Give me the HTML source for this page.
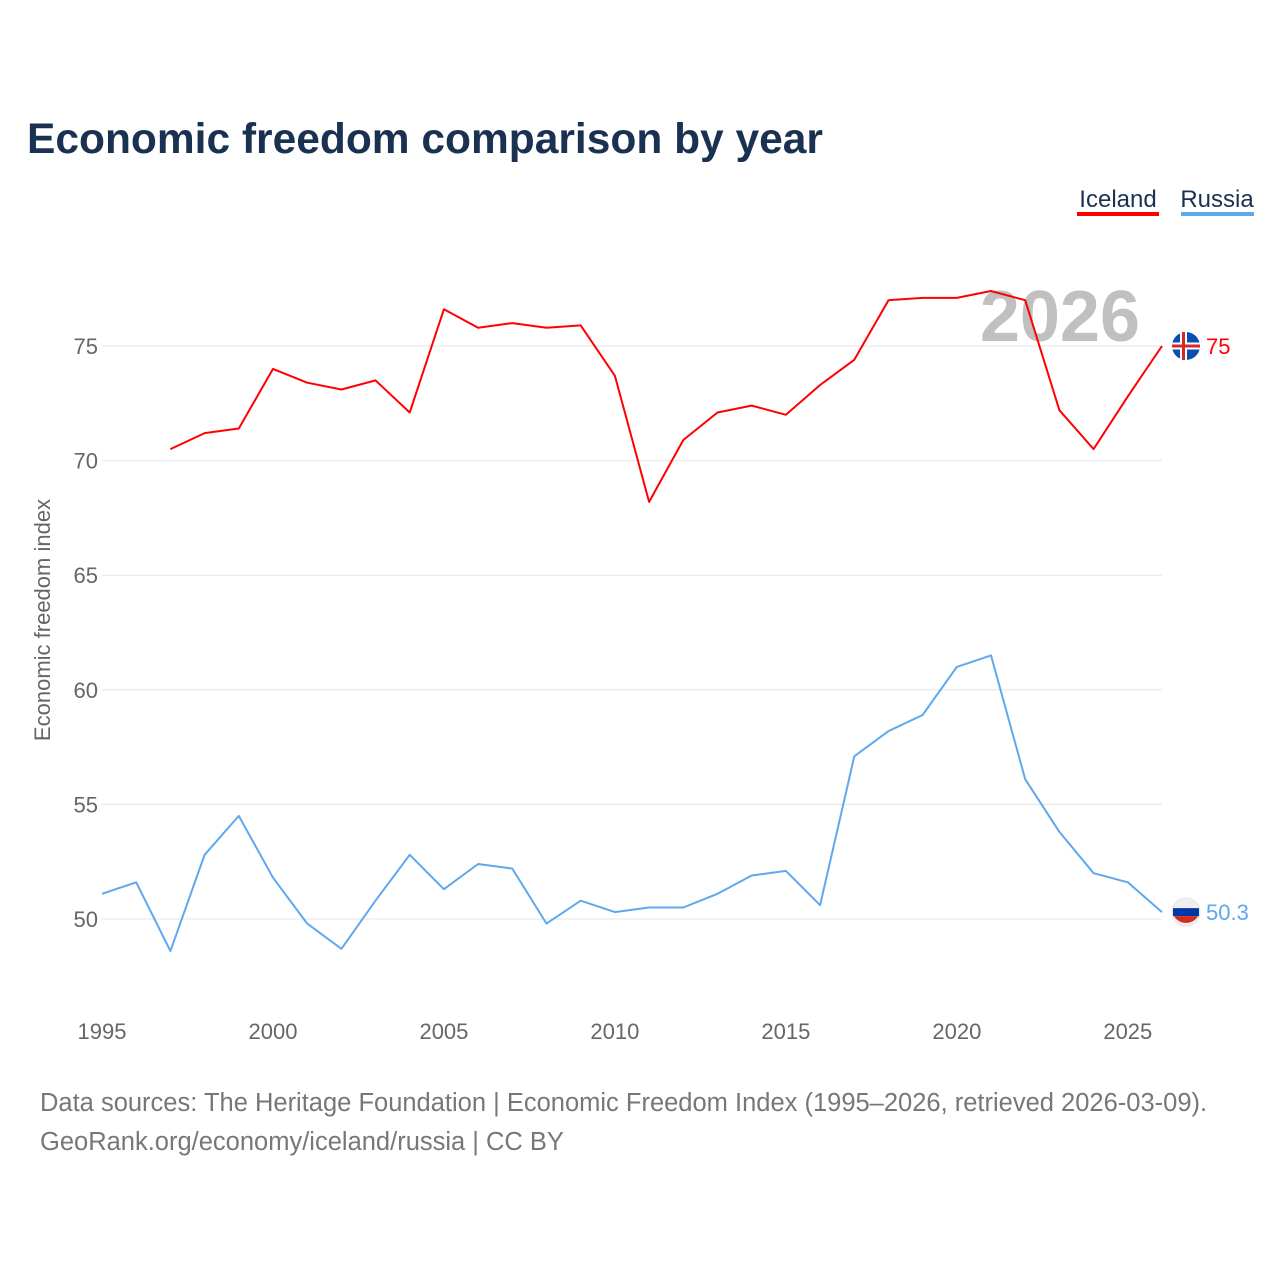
<!DOCTYPE html>
<html><head><meta charset="utf-8">
<style>
html,body{margin:0;padding:0;background:#fff;}
body{width:1280px;height:1280px;position:relative;font-family:"Liberation Sans",sans-serif;overflow:hidden;}
</style></head>
<body>
<svg id="chart" width="1280" height="1280" xmlns="http://www.w3.org/2000/svg" font-family="Liberation Sans, sans-serif">
<text x="27" y="153" font-size="42.5" font-weight="bold" fill="#1b3152">Economic freedom comparison by year</text>
<g><text x="1118" y="207" font-size="24" fill="#1b3152" text-anchor="middle">Iceland</text><rect x="1077" y="212" width="82" height="4" fill="#ff0000"/></g>
<g><text x="1217" y="207" font-size="24" fill="#1b3152" text-anchor="middle">Russia</text><rect x="1181" y="212" width="73" height="4" fill="#5ea8ee"/></g>
<text x="1140" y="341" font-size="72" font-weight="bold" fill="#c0c0c0" text-anchor="end">2026</text>
<text transform="translate(50,620) rotate(-90)" font-size="22" fill="#666" text-anchor="middle">Economic freedom index</text>
<g id="grid"></g><g id="series"></g>
<text x="40" y="1111" font-size="25.5" fill="#777">Data sources: The Heritage Foundation | Economic Freedom Index (1995–2026, retrieved 2026-03-09).</text>
<text x="40" y="1150" font-size="25.5" fill="#777">GeoRank.org/economy/iceland/russia | CC BY</text>
</svg>
<script>
const years=[1995,1996,1997,1998,1999,2000,2001,2002,2003,2004,2005,2006,2007,2008,2009,2010,2011,2012,2013,2014,2015,2016,2017,2018,2019,2020,2021,2022,2023,2024,2025,2026];
const iceland=[null,null,70.5,71.2,71.4,74.0,73.4,73.1,73.5,72.1,76.6,75.8,76.0,75.8,75.9,73.7,68.2,70.9,72.1,72.4,72.0,73.3,74.4,77.0,77.1,77.1,77.4,77.0,72.2,70.5,72.8,75.0];
const russia=[51.1,51.6,48.6,52.8,54.5,51.8,49.8,48.7,50.8,52.8,51.3,52.4,52.2,49.8,50.8,50.3,50.5,50.5,51.1,51.9,52.1,50.6,57.1,58.2,58.9,61.0,61.5,56.1,53.8,52.0,51.6,50.3];
const yTicks=[50,55,60,65,70,75];
const xTicks=[1995,2000,2005,2010,2015,2020,2025];
const NS="http://www.w3.org/2000/svg";
const xS=y=>102+(y-1995)*(1162-102)/31;
const yS=v=>919-(v-50)*(919-346)/25;
function mk(t,a,p){const e=document.createElementNS(NS,t);for(const k in a)e.setAttribute(k,a[k]);p.appendChild(e);return e;}
const grid=document.getElementById('grid'),ser=document.getElementById('series');
yTicks.forEach(v=>{
 const l=mk('line',{x1:102,x2:1162,y1:yS(v),y2:yS(v),stroke:'#e6e6e6','stroke-width':1},grid);
 
 
 const t=mk('text',{x:98,y:yS(v)+8,'font-size':22,fill:'#666','text-anchor':'end'},grid);t.textContent=v;
 
 
});
xTicks.forEach(y=>{
 const t=mk('text',{x:xS(y),y:1039,'font-size':22,fill:'#666','text-anchor':'middle'},grid);t.textContent=y;
 
 
});
function line(vals,color,name){
 let d='';vals.forEach((v,i)=>{if(v==null)return;d+=(d?'L':'M')+xS(years[i]).toFixed(1)+','+yS(v).toFixed(1);});
 const p=mk('path',{d:d,fill:'none',stroke:color,'stroke-width':2,'stroke-linejoin':'round'},ser);
 
 
 const last=vals[vals.length-1],cx=xS(years[years.length-1])+24,cy=yS(last);
 const c=mk('circle',{cx:cx,cy:cy,r:14,fill:name==='iceland'?'#0b4fae':'#f0f0f0'},ser);
 
 
 if(name==='iceland'){
  mk('rect',{x:cx-14,y:cy-3.5,width:28,height:7,fill:'#fff'},ser);mk('rect',{x:cx-6,y:cy-14,width:7,height:28,fill:'#fff'},ser);
  mk('rect',{x:cx-14,y:cy-1.5,width:28,height:3,fill:'#d72828'},ser);mk('rect',{x:cx-4,y:cy-14,width:3,height:28,fill:'#d72828'},ser);
 }else{
  mk('path',{d:`M${cx-13},${cy-4}H${cx+13}V${cy+4}H${cx-13}Z`,fill:'#0039a6'},ser);
  mk('path',{d:`M${cx-12},${cy+4}H${cx+12}A14,14 0 0 1 ${cx-12},${cy+4}Z`,fill:'#d52b1e'},ser);
  mk('circle',{cx:cx,cy:cy,r:14,fill:'none',stroke:'#e4e4e4','stroke-width':1},ser);
 }
 const t=mk('text',{x:cx+20,y:cy+8,'font-size':22,fill:color},ser);t.textContent=last;
 
 
}
line(iceland,'#ff0000','iceland');
line(russia,'#5ea8ee','russia');
</script>
</body></html>
